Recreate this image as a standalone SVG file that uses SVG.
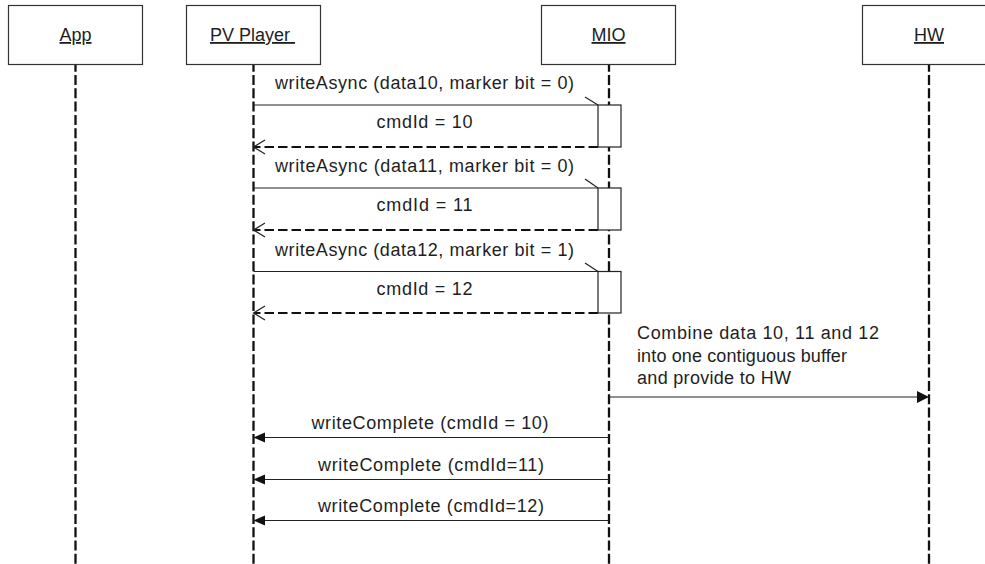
<svg xmlns="http://www.w3.org/2000/svg" width="985" height="564" viewBox="0 0 985 564">
<style>
text{font-family:"Liberation Sans",Arial,sans-serif;font-size:18px;fill:#1e1e1e}
.box{fill:#fff;stroke:#333;stroke-width:1.2}
.life{stroke:#111;stroke-width:2.3;stroke-dasharray:10 3.3;stroke-dashoffset:2.3;fill:none}
.msg{stroke:#222;stroke-width:1.2;fill:none}
.ret{stroke:#111;stroke-width:2;stroke-dasharray:9.5 4;fill:none}
.head{stroke:#222;stroke-width:1.2;fill:none}
.fhead{fill:#111;stroke:none}
.act{fill:#fff;stroke:#222;stroke-width:1.2}
.lbl{text-anchor:middle}
</style>
<g id="lifelines">
<line class="life" x1="75.5" y1="64" x2="75.5" y2="564"/>
<line class="life" x1="253.5" y1="64" x2="253.5" y2="564"/>
<line class="life" x1="609" y1="64" x2="609" y2="564"/>
<line class="life" x1="929" y1="64" x2="929" y2="564"/>
</g>
<g id="app"><rect class="box" x="8.5" y="5.5" width="134" height="59"/><text class="lbl" x="75.5" y="41" text-decoration="underline">App</text></g>
<g id="pvplayer"><rect class="box" x="186.5" y="5.5" width="134" height="59"/><text x="210" y="41" text-decoration="underline">PV Player&#160;</text></g>
<g id="mio"><rect class="box" x="541.5" y="5.5" width="134" height="59"/><text class="lbl" x="608.5" y="41" text-decoration="underline">MIO</text></g>
<g id="hw"><rect class="box" x="862.5" y="5.5" width="134" height="59"/><text class="lbl" x="929" y="41" text-decoration="underline">HW</text></g>
<g id="connectors">
<!-- call 1 -->
<line class="msg" x1="253.5" y1="105" x2="598" y2="105"/>
<line class="head" x1="585" y1="97" x2="598" y2="105"/>
<text class="lbl" x="424.5" y="89" textLength="299" lengthAdjust="spacing">writeAsync (data10, marker bit = 0)</text>
<line class="ret" x1="598" y1="147" x2="254" y2="147"/>
<polyline class="head" points="265,140 253.5,147 265,154"/>
<text class="lbl" x="424.5" y="128" textLength="96" lengthAdjust="spacing">cmdId = 10</text>
<!-- call 2 -->
<line class="msg" x1="253.5" y1="188" x2="598" y2="188"/>
<line class="head" x1="585" y1="179" x2="598" y2="188"/>
<text class="lbl" x="424.5" y="172" textLength="299" lengthAdjust="spacing">writeAsync (data11, marker bit = 0)</text>
<line class="ret" x1="598" y1="230" x2="254" y2="230"/>
<polyline class="head" points="265,223 253.5,230 265,237"/>
<text class="lbl" x="424.5" y="211" textLength="96" lengthAdjust="spacing">cmdId = 11</text>
<!-- call 3 -->
<line class="msg" x1="253.5" y1="271.5" x2="598" y2="271.5"/>
<line class="head" x1="585" y1="263" x2="598" y2="271.5"/>
<text class="lbl" x="424.5" y="255.5" textLength="299" lengthAdjust="spacing">writeAsync (data12, marker bit = 1)</text>
<line class="ret" x1="598" y1="313" x2="254" y2="313"/>
<polyline class="head" points="265,306 253.5,313 265,320"/>
<text class="lbl" x="424.5" y="294.5" textLength="96" lengthAdjust="spacing">cmdId = 12</text>
<!-- to HW -->
<line class="msg" x1="609" y1="397" x2="918" y2="397"/>
<polygon class="fhead" points="929,397 917,391 917,403"/>
<text x="637" y="339" textLength="242" lengthAdjust="spacing">Combine data 10, 11 and 12</text>
<text x="637" y="362" textLength="210" lengthAdjust="spacing">into one contiguous buffer</text>
<text x="637" y="384" textLength="154" lengthAdjust="spacing">and provide to HW</text>
<!-- write complete -->
<line class="msg" x1="609" y1="437.5" x2="264" y2="437.5"/>
<polygon class="fhead" points="253.5,437.5 265,432.5 265,442.5"/>
<text class="lbl" x="430" y="429" textLength="237" lengthAdjust="spacing">writeComplete (cmdId = 10)</text>
<line class="msg" x1="609" y1="479.5" x2="264" y2="479.5"/>
<polygon class="fhead" points="253.5,479.5 265,474.5 265,484.5"/>
<text class="lbl" x="431" y="470.5" textLength="226" lengthAdjust="spacing">writeComplete (cmdId=11)</text>
<line class="msg" x1="609" y1="520.5" x2="264" y2="520.5"/>
<polygon class="fhead" points="253.5,520.5 265,515.5 265,525.5"/>
<text class="lbl" x="431" y="511.5" textLength="226" lengthAdjust="spacing">writeComplete (cmdId=12)</text>
</g>
<g id="activations">
<rect class="act" x="598" y="105" width="23" height="42"/>
<rect class="act" x="598" y="188" width="23" height="42"/>
<rect class="act" x="598" y="271.5" width="23" height="41.5"/>
</g>
</svg>
